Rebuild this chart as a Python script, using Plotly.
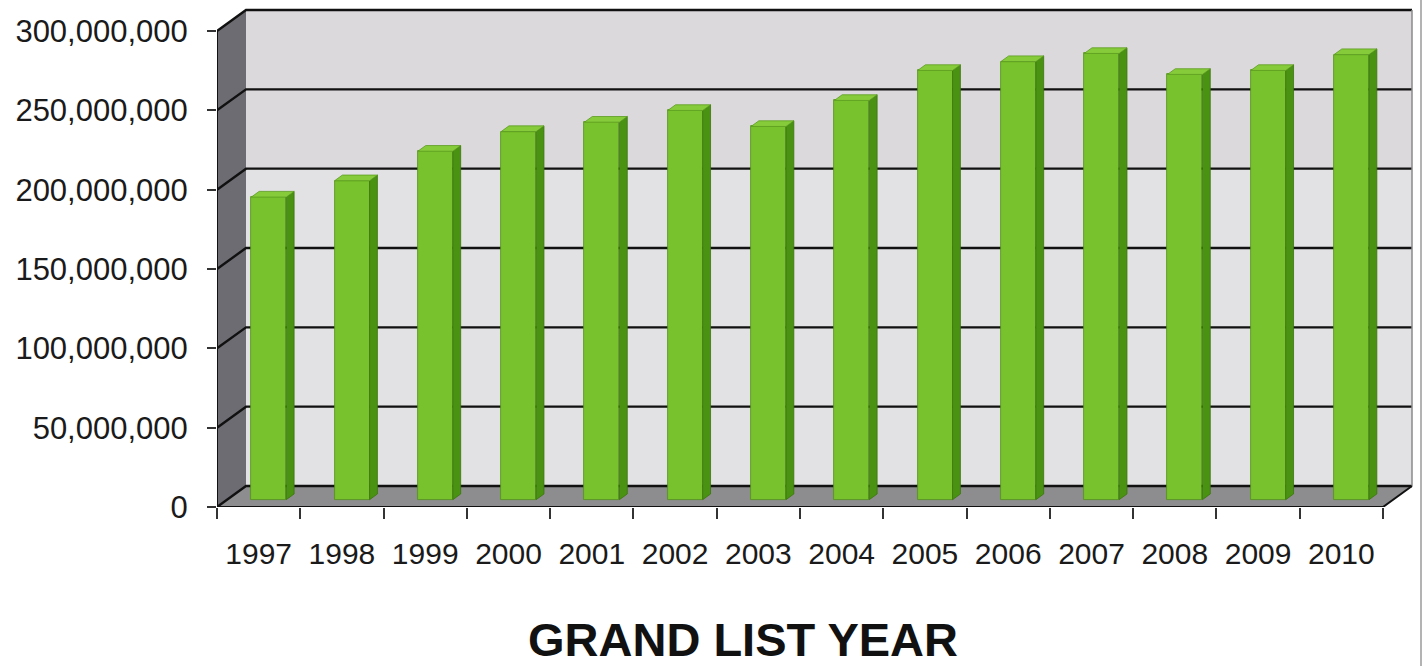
import plotly.graph_objects as go

# ---- data ----
years = ["1997", "1998", "1999", "2000", "2001", "2002", "2003",
         "2004", "2005", "2006", "2007", "2008", "2009", "2010"]
grand_list = [190_700_000, 201_000_000, 219_600_000, 232_000_000, 237_900_000,
              245_300_000, 235_200_000, 251_600_000, 270_500_000, 276_100_000,
              281_200_000, 268_000_000, 270_500_000, 280_500_000]
y_ticks = [0, 50_000_000, 100_000_000, 150_000_000, 200_000_000, 250_000_000, 300_000_000]
y_max = 300_000_000

# ---- geometry (pixels -> data units) ----
W, H = 1424, 666
L_PX, R_PX = 217, 1383          # front x-axis extent
Y0_PX, YTOP_PX = 507, 31       # front value-axis extent
n = len(years)
sx = (R_PX - L_PX) / n                 # px per category
sy = (Y0_PX - YTOP_PX) / y_max         # px per unit value
DX = 29 / sx                           # depth offset (x)
DY = 21 / sy                           # depth offset (y)
F1, F2 = 0.35, 0.62                    # bar front/back depth fractions
BW = 0.42                              # bar width (category units)

x_range = [0, (W - L_PX) / sx]
y_range = [0, Y0_PX / sy]

shapes = []

def poly_shape(pts, color):
    path = "M " + " L ".join(f"{x},{y}" for x, y in pts) + " Z"
    shapes.append(dict(type="path", xref="x", yref="y", path=path, fillcolor=color,
                       line=dict(width=0), layer="below"))

def line_shape(pts, color="#111111", w=2.2):
    path = "M " + " L ".join(f"{x},{y}" for x, y in pts)
    shapes.append(dict(type="path", xref="x", yref="y", path=path,
                       line=dict(color=color, width=w), layer="below"))

# back wall (two tones)
poly_shape([(DX, DY), (n + DX, DY), (n + DX, y_max + DY), (DX, y_max + DY)], "#dcd9dc")
poly_shape([(DX, DY), (n + DX, DY), (n + DX, 200_000_000 + DY), (DX, 200_000_000 + DY)], "#e2e1e3")
# left wall
poly_shape([(0, 0), (DX, DY), (DX, y_max + DY), (0, y_max)], "#6c6c72")
# floor
poly_shape([(0, 0), (n, 0), (n + DX, DY), (DX, DY)], "#8d8d8f")
# gridlines on left and back walls
for t in y_ticks:
    line_shape([(0, t), (DX, t + DY), (n + DX, t + DY)], "#111111", 2.4)
# edges
line_shape([(n + DX, DY), (n + DX, y_max + DY)], "#8a8a8a", 1.5)
line_shape([(0, 0), (0, y_max)], "#111111", 2)
line_shape([(0, 0), (n, 0), (n + DX, DY)], "#111111", 2)

fig = go.Figure()

# front faces of the bars
fig.add_trace(go.Bar(x=[i + 0.5 + F1 * DX for i in range(n)], y=grand_list,
                     base=[F1 * DY] * n, width=BW,
                     marker=dict(color="#78c22d", line=dict(color="#4f8f18", width=0.8)),
                     hoverinfo="skip", showlegend=False))

# side and top faces
side_x, side_y, top_x, top_y = [], [], [], []
for i, v in enumerate(grand_list):
    c = i + 0.5
    xl = c - BW / 2 + F1 * DX
    xr = c + BW / 2 + F1 * DX
    yb = F1 * DY
    yt = v + F1 * DY
    ddx = (F2 - F1) * DX
    ddy = (F2 - F1) * DY
    side_x += [xr, xr + ddx, xr + ddx, xr, xr, None]
    side_y += [yb, yb + ddy, yt + ddy, yt, yb, None]
    top_x += [xl, xr, xr + ddx, xl + ddx, xl, None]
    top_y += [yt, yt, yt + ddy, yt + ddy, yt, None]

fig.add_trace(go.Scatter(x=side_x, y=side_y, mode="lines", fill="toself", fillcolor="#4a9212",
                         line=dict(color="#3b750c", width=0.8), hoverinfo="skip", showlegend=False))
fig.add_trace(go.Scatter(x=top_x, y=top_y, mode="lines", fill="toself", fillcolor="#86cc3a",
                         line=dict(color="#5c9c20", width=0.8), hoverinfo="skip", showlegend=False))

shapes.append(dict(type="line", xref="paper", yref="paper",
                   x0=(1421 - L_PX) / (W - L_PX), x1=(1421 - L_PX) / (W - L_PX),
                   y0=1, y1=(Y0_PX - H) / Y0_PX,
                   line=dict(color="#9a9a9a", width=1.5)))

fig.update_layout(
    width=W, height=H,
    margin=dict(l=L_PX, r=0, t=0, b=H - Y0_PX, autoexpand=False),
    paper_bgcolor="white", plot_bgcolor="white",
    font=dict(family="Liberation Sans, Arial, sans-serif", color="#1a1a1a"),
    bargap=0,
    xaxis=dict(range=x_range, showgrid=False, zeroline=False, showline=False,
               tickvals=[i + 0.5 for i in range(n)], ticktext=years,
               ticks="", tickfont=dict(size=30), ticklabelstandoff=26,
               minor=dict(tickvals=list(range(n + 1)), ticks="outside", ticklen=11,
                          tickcolor="#333333", tickwidth=1.5),
               fixedrange=True),
    yaxis=dict(range=y_range, showgrid=False, zeroline=False, showline=False,
               tickvals=y_ticks, tickformat=",d", ticks="outside", ticklen=9,
               tickcolor="#333333", tickwidth=1.5,
               tickfont=dict(size=31), ticklabelstandoff=13, fixedrange=True),
    annotations=[dict(text="<b>GRAND LIST YEAR</b>", xref="paper", yref="paper",
                      x=(743 - L_PX) / (W - L_PX), y=(Y0_PX - 639) / Y0_PX,
                      xanchor="center", yanchor="middle", showarrow=False,
                      font=dict(size=47, color="#111111"))],
    shapes=shapes,
)

fig.write_html("out.html")
